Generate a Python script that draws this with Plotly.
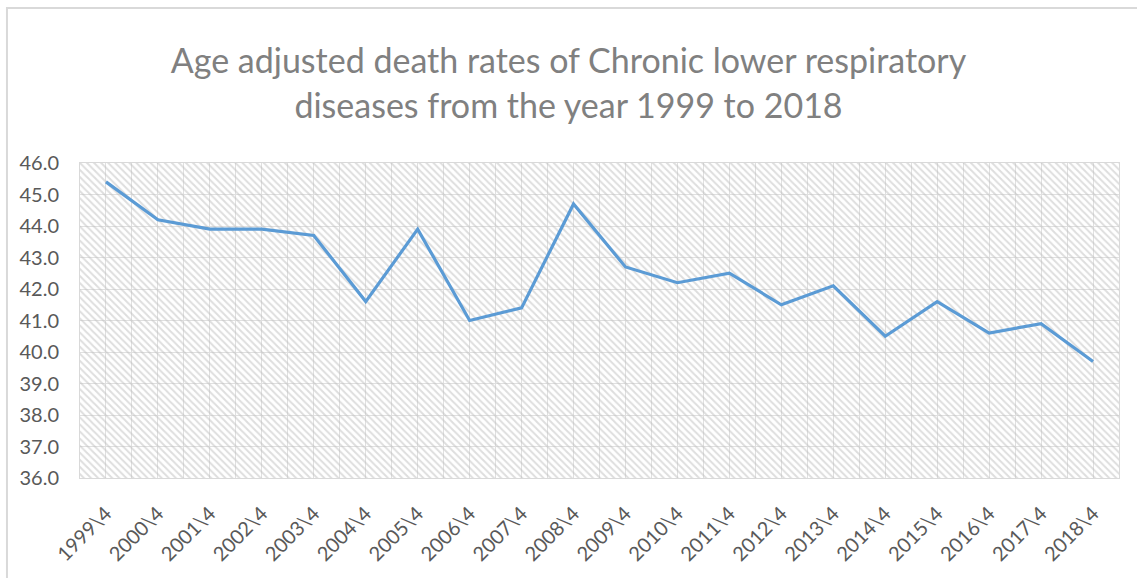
import plotly.graph_objects as go

# datos
years = ["1999\\4", "2000\\4", "2001\\4", "2002\\4", "2003\\4", "2004\\4", "2005\\4",
         "2006\\4", "2007\\4", "2008\\4", "2009\\4", "2010\\4", "2011\\4", "2012\\4",
         "2013\\4", "2014\\4", "2015\\4", "2016\\4", "2017\\4", "2018\\4"]
rates = [45.4, 44.2, 43.9, 43.9, 43.7, 41.6, 43.9, 41.0, 41.4, 44.7,
         42.7, 42.2, 42.5, 41.5, 42.1, 40.5, 41.6, 40.6, 40.9, 39.7]
y_ticks = [36.0, 37.0, 38.0, 39.0, 40.0, 41.0, 42.0, 43.0, 44.0, 45.0, 46.0]

y_min, y_max = y_ticks[0], y_ticks[-1]
idx = list(range(len(years)))

fig = go.Figure()

# fondo rayado del área de trazado (como el patrón de Excel)
fig.add_trace(go.Bar(
    x=idx,
    y=[y_max - y_min] * len(idx),
    base=y_min,
    width=1,
    marker=dict(
        color='rgba(0,0,0,0)',
        line=dict(width=0),
        pattern=dict(shape='\\', fgcolor='#bdbdbd', bgcolor='rgba(0,0,0,0)',
                     size=5, solidity=0.4)
    ),
    hoverinfo='skip',
    showlegend=False
))

fig.add_trace(go.Scatter(
    x=idx,
    y=rates,
    mode='lines',
    line=dict(color='#5b9bd5', width=3.2),
    showlegend=False
))

gris = '#e0e0e0'
fig.update_layout(
    width=1137, height=578,
    margin=dict(l=80, r=18, t=163, b=100),
    paper_bgcolor='white',
    plot_bgcolor='white',
    bargap=0,
    font=dict(family='Lato', color='#595959'),
    title=dict(
        text='Age adjusted death rates of Chronic lower respiratory<br>diseases from the year 1999 to 2018',
        x=0.5, xanchor='center', y=0.873, yanchor='top',
        font=dict(size=34, color='#808080', family='Lato')
    ),
    xaxis=dict(
        range=[-0.5, len(idx) - 0.5],
        tickmode='array', tickvals=idx, ticktext=years,
        tickangle=-45,
        tickfont=dict(size=20, color='#595959'),
        showgrid=True, gridcolor=gris, gridwidth=1,
        minor=dict(tickmode='linear', tick0=-0.5, dtick=1, showgrid=True,
                   gridcolor=gris, gridwidth=1),
        showline=True, linecolor='#d9d9d9', linewidth=1, mirror=True,
        zeroline=False, ticks='', ticklabelstandoff=15, automargin=False
    ),
    yaxis=dict(
        range=[y_min, y_max],
        tickmode='array', tickvals=y_ticks,
        tickformat='.1f',
        tickfont=dict(size=20, color='#595959'),
        showgrid=True, gridcolor=gris, gridwidth=1,
        showline=True, linecolor='#d9d9d9', linewidth=1, mirror=True,
        zeroline=False, ticks='', ticklabelstandoff=16, automargin=False
    ),
    # borde exterior del gráfico (solo se ven izquierda y arriba)
    shapes=[dict(type='rect', xref='paper', yref='paper',
                 x0=-0.0703, x1=1.1, y0=-0.5, y1=1.492,
                 line=dict(color='#d9d9d9', width=2), layer='below')]
)

# quitar el margen por defecto del <body> para que la figura empiece en (0, 0)
fig.write_html("out.html", config={'displayModeBar': False},
               post_script="document.body.style.margin='0';")
